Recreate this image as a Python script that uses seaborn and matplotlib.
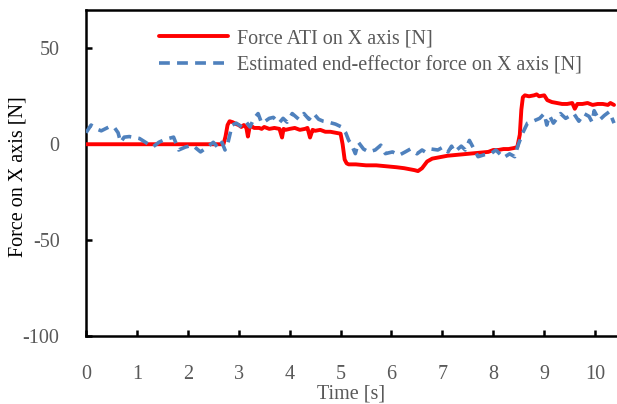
import numpy as np
import pandas as pd
import matplotlib
matplotlib.use("Agg")
import matplotlib.pyplot as plt
import seaborn as sns

# Force ATI on X axis [N] (red)
ati_time = [0.0, 2.70, 2.74, 2.78, 2.82, 2.88, 2.95, 3.0, 3.05, 3.1, 3.15, 3.18, 3.21, 3.25, 3.3,
            3.4, 3.45, 3.5, 3.6, 3.7, 3.8, 3.85, 3.88, 3.92, 4.0, 4.1, 4.2, 4.3, 4.35, 4.4, 4.45,
            4.5, 4.6, 4.7, 4.8, 4.9, 5.0, 5.04, 5.08, 5.12, 5.16, 5.3, 5.5, 5.7, 5.9, 6.1, 6.25,
            6.35, 6.45, 6.52, 6.6, 6.7, 6.8, 6.9, 7.0, 7.1, 7.3, 7.5, 7.7, 7.9, 8.0, 8.1, 8.2,
            8.3, 8.4, 8.47, 8.52, 8.55, 8.58, 8.62, 8.7, 8.8, 8.85, 8.9, 9.0, 9.06, 9.15, 9.25,
            9.35, 9.45, 9.55, 9.6, 9.65, 9.75, 9.85, 9.95, 10.05, 10.15, 10.25, 10.3, 10.37]
ati_force = [0.0, 0.0, 4.0, 10.0, 12.0, 11.5, 10.5, 10.0, 9.0, 10.0, 8.5, 4.0, 8.5, 9.5, 8.5,
             8.5, 8.0, 9.0, 8.0, 8.5, 8.0, 3.5, 8.0, 7.5, 8.0, 8.5, 7.5, 8.0, 8.5, 3.5, 7.5,
             7.0, 7.5, 6.5, 6.5, 6.0, 5.5, 0.0, -8.0, -10.0, -10.5, -10.5, -11.0, -11.0, -11.5, -12.0, -12.5,
             -13.0, -13.5, -14.0, -12.5, -9.0, -7.5, -7.0, -6.5, -6.0, -5.5, -5.0, -4.5, -4.0, -3.0, -3.0, -2.5,
             -2.5, -2.0, -1.5, 5.0, 18.0, 24.5, 25.5, 25.0, 25.5, 26.0, 25.0, 25.5, 23.0, 22.0, 21.5,
             21.0, 21.0, 21.5, 18.5, 21.0, 21.0, 21.5, 20.5, 21.0, 21.0, 20.5, 21.5, 20.5]

# Estimated end-effector force on X axis [N] (blue dashed)
est_time = [0.0, 0.1, 0.2, 0.3, 0.45, 0.55, 0.63, 0.68, 0.75, 0.85,
            0.95, 1.05, 1.17, 1.31, 1.43, 1.55, 1.72, 1.82, 1.95, 2.09,
            2.25, 2.38, 2.5, 2.6, 2.67, 2.73, 2.79, 2.87, 2.95, 3.06,
            3.15, 3.22, 3.3, 3.38, 3.45, 3.52, 3.6, 3.68, 3.79, 3.87,
            3.95, 4.05, 4.18, 4.28, 4.38, 4.47, 4.57, 4.66, 4.76, 4.9,
            5.02, 5.1, 5.16, 5.21, 5.29, 5.35, 5.45, 5.55, 5.68, 5.79,
            5.88, 6.02, 6.15, 6.27, 6.37, 6.5, 6.6, 6.66, 6.78, 6.91,
            7.01, 7.11, 7.18, 7.24, 7.37, 7.45, 7.53, 7.6, 7.7, 7.82,
            7.95, 8.05, 8.2, 8.32, 8.42, 8.48, 8.57, 8.67, 8.78, 8.91,
            9.0, 9.05, 9.1, 9.18, 9.32, 9.42, 9.58, 9.68, 9.78, 9.88,
            9.94, 9.98, 10.08, 10.18, 10.28, 10.37]
est_force = [6.0, 10.0, 8.0, 7.0, 9.0, 9.0, 6.0, 1.0, 3.7, 4.0,
             3.5, 3.0, 1.0, -1.5, 1.0, 2.5, 3.7, -3.0, -1.5, -0.5,
             -4.0, -1.5, 1.0, -2.0, 1.0, -3.0, 1.0, 10.0, 11.0, 9.0,
             11.5, 9.0, 13.5, 16.0, 11.0, 12.0, 13.5, 14.0, 11.0, 13.5,
             11.5, 16.0, 13.0, 16.0, 13.0, 16.0, 13.0, 12.0, 11.5, 10.5,
             9.0, 6.0, 2.0, 0.0, -4.9, 1.0, -2.5, -4.0, -3.0, -0.5,
             -4.9, -4.0, -5.7, -4.0, -2.5, -5.0, -3.0, -4.0, -2.5, -3.0,
             -1.5, -4.0, -1.0, -4.0, -1.0, -3.0, 2.0, -1.5, -6.5, -5.5,
             -5.0, -3.0, -7.0, -5.0, -6.5, -1.0, 5.5, 11.0, 12.0, 13.5,
             16.0, 10.0, 15.0, 11.0, 16.0, 13.5, 16.0, 12.0, 16.0, 14.5,
             11.5, 17.5, 12.5, 15.0, 17.0, 11.0]

x_ticks = [0, 1, 2, 3, 4, 5, 6, 7, 8, 9, 10]
y_ticks = [-100, -50, 0, 50]
ati_label = "Force ATI on X axis [N]"
est_label = "Estimated end-effector force on X axis [N]"

sns.set_style("white")
plt.rcParams['font.family'] = ['Liberation Serif', 'DejaVu Serif']
plt.rcParams['axes.unicode_minus'] = False
plt.rcParams['xtick.bottom'] = True
plt.rcParams['ytick.left'] = True

FS = 14.5
fig = plt.figure(figsize=(6.17, 4.04), dpi=100)
ax = fig.add_axes([86/617, 1 - 336/404, 1 - 86/617 + 0.01, (336 - 10)/404])

df_ati = pd.DataFrame({"t": ati_time, "f": ati_force})
df_est = pd.DataFrame({"t": est_time, "f": est_force})

sns.lineplot(data=df_ati, x="t", y="f", ax=ax, color="#FF0000", linewidth=2.8,
             label=ati_label, zorder=3)
sns.lineplot(data=df_est, x="t", y="f", ax=ax, color="#4F81BD", linewidth=2.6,
             label=est_label, zorder=4)
ax.lines[1].set_dashes((3, 2))

ax.set_xlim(0, 10.55)
ax.set_ylim(-100, 70)
ax.set_xticks(x_ticks)
ax.set_yticks(y_ticks)
gray = "#595959"
ax.tick_params(axis="x", bottom=True, direction="in", length=4.5, width=1.8, pad=21,
               labelsize=FS, labelcolor=gray, color="black")
ax.tick_params(axis="y", left=True, direction="in", length=4.5, width=1.8, pad=19,
               labelsize=FS, labelcolor=gray, color="black")
for tk in ax.xaxis.get_major_ticks() + ax.yaxis.get_major_ticks():
    tk.tick1line.set_visible(True)
    tk.tick1line.set_zorder(5)
for s in ["left", "bottom", "top"]:
    ax.spines[s].set_color("black")
    ax.spines[s].set_linewidth(1.8)
ax.spines["right"].set_visible(False)

ax.set_xlabel("Time [s]", fontsize=FS, color=gray)
ax.set_ylabel("Force on X axis [N]", fontsize=FS, color="black")
ax.xaxis.set_label_coords(351/617, (404 - 385)/404, transform=fig.transFigure)
ax.yaxis.set_label_coords(27/617, (404 - 177)/404, transform=fig.transFigure)

leg = ax.legend(loc="upper left", bbox_to_anchor=(159/617, 1 - 29/404),
                bbox_transform=fig.transFigure, frameon=False, fontsize=FS,
                handlelength=3.45, handletextpad=0.4, labelspacing=0.4,
                borderpad=0, borderaxespad=0)
for t in leg.get_texts():
    t.set_color(gray)
leg.get_lines()[1].set_dashes((3, 2))

fig.savefig("out.png", dpi=100)
